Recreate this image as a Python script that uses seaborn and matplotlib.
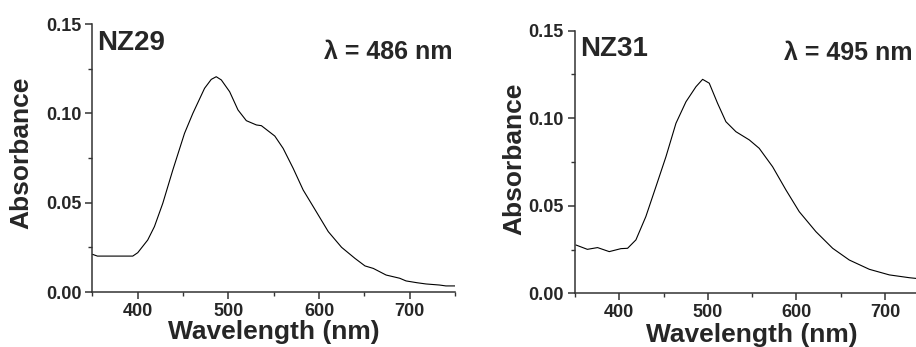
import numpy as np
import pandas as pd
import matplotlib
matplotlib.use("Agg")
import matplotlib.pyplot as plt
from matplotlib.ticker import MultipleLocator, FormatStrFormatter
import seaborn as sns

# ---- data ----
nz29_wl = [350, 355.5, 394.5, 400, 411, 418.4, 427.6, 438.7, 451.6, 460.8, 473.7, 481.1,
           486.6, 492.2, 501.4, 510.6, 519.8, 530.9, 536.4, 551.2, 560.4, 571.5, 582.5,
           593.6, 610.2, 624.9, 639.7, 650.7, 659.9, 674, 689, 696, 708, 718, 733, 740, 750]
nz29_abs = [0.0211, 0.0201, 0.0201, 0.0220, 0.0291, 0.0366, 0.0496, 0.0683, 0.0888, 0.1000,
            0.1140, 0.1190, 0.1205, 0.1187, 0.1121, 0.1019, 0.0959, 0.0935, 0.0931, 0.0873,
            0.0804, 0.0692, 0.0571, 0.0478, 0.0338, 0.0250, 0.0188, 0.0146, 0.0132, 0.0095,
            0.0077, 0.0062, 0.0052, 0.0045, 0.0039, 0.0034, 0.0034]

nz31_wl = [351, 364, 375.5, 388.7, 401.9, 409.4, 418.8, 430, 441.4, 452.7, 464, 475.3,
           486.6, 494.1, 501.6, 511, 520.4, 531.7, 546.8, 558, 573.1, 588.2, 603.2, 622,
           640.9, 659.7, 682.3, 704.9, 727.4, 735]
nz31_abs = [0.0276, 0.0251, 0.0261, 0.0238, 0.0255, 0.0257, 0.0305, 0.0438, 0.0609, 0.0780,
            0.0971, 0.1094, 0.1180, 0.1222, 0.1200, 0.1085, 0.0980, 0.0923, 0.0876, 0.0828,
            0.0723, 0.0590, 0.0466, 0.0352, 0.0257, 0.0190, 0.0137, 0.0105, 0.0089, 0.0085]

names = ["NZ29", "NZ31"]
peaks = ["\u03bb = 486 nm", "\u03bb = 495 nm"]
x_ticks = [400, 500, 600, 700]
y_ticks = [0.00, 0.05, 0.10, 0.15]

sns.set_theme(style="ticks")
plt.rcParams["font.family"] = ["Liberation Sans", "DejaVu Sans"]
plt.rcParams["font.weight"] = "bold"

fig = plt.figure(figsize=(9.16, 3.47), dpi=100)
ax1 = fig.add_axes([0.1009, 0.1585, 0.3958, 0.7723])
ax2 = fig.add_axes([0.6277, 0.1548, 0.3723, 0.7568])

df1 = pd.DataFrame({"wl": nz29_wl, "A": nz29_abs})
df2 = pd.DataFrame({"wl": nz31_wl, "A": nz31_abs})

sns.lineplot(data=df1, x="wl", y="A", ax=ax1, color="black", linewidth=0.8)
sns.lineplot(data=df2, x="wl", y="A", ax=ax2, color="black", linewidth=0.8)

settings = [
    (ax1, (350, 750), (-0.164, 0.52), (0.5, -0.105), (0.012, 0.929), (0.992, 0.896)),
    (ax2, (350, 735), (-0.144, 0.513), (0.52, -0.112), (0.016, 0.930), (0.991, 0.915)),
]
for i, (ax, xl, ylc, xlc, npos, ppos) in enumerate(settings):
    ax.set_xlim(*xl)
    ax.set_ylim(0, 0.15)
    ax.set_xticks(x_ticks)
    ax.set_yticks(y_ticks)
    ax.xaxis.set_minor_locator(MultipleLocator(50))
    ax.yaxis.set_minor_locator(MultipleLocator(0.025))
    ax.yaxis.set_major_formatter(FormatStrFormatter("%.2f"))
    ax.tick_params(which="major", length=5, width=1.1, labelsize=13, pad=3, color="#333333")
    ax.tick_params(which="minor", length=3, width=1.0, color="#333333")
    for lab in ax.get_xticklabels() + ax.get_yticklabels():
        lab.set_fontweight("bold")
    ax.set_xlabel("Wavelength (nm)", fontsize=19, fontweight="bold")
    ax.set_ylabel("Absorbance", fontsize=19, fontweight="bold")
    ax.yaxis.set_label_coords(*ylc)
    ax.xaxis.set_label_coords(*xlc)
    for sp in ["left", "bottom"]:
        ax.spines[sp].set_linewidth(1.1)
        ax.spines[sp].set_color("#333333")
    sns.despine(ax=ax)
    ax.text(npos[0], npos[1], names[i], transform=ax.transAxes, fontsize=20,
            fontweight="bold", ha="left", va="center")
    ax.text(ppos[0], ppos[1], peaks[i], transform=ax.transAxes, fontsize=18,
            fontweight="bold", ha="right", va="center")

fig.savefig("out.png", dpi=100)
